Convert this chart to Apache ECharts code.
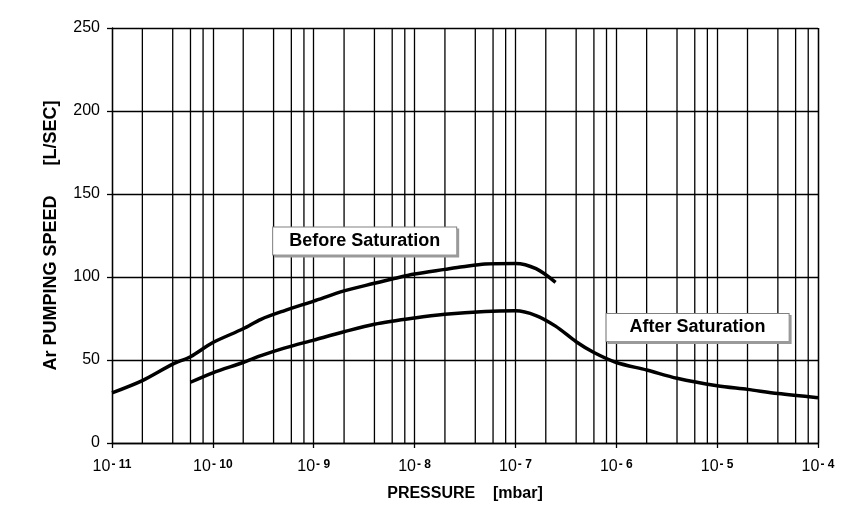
<!DOCTYPE html>
<html>
<head>
<meta charset="utf-8">
<script src="https://cdn.jsdelivr.net/npm/echarts@6/dist/echarts.min.js"></script>
<style>html,body{margin:0;padding:0;background:#fff;}#c{width:855px;height:516px;}</style>
</head>
<body>
<div id="c"></div>
<script>
// Pressure (mbar) and Ar pumping speed (L/s)
const beforePressure = [1e-11, 2e-11, 4e-11, 6e-11, 1e-10, 2e-10, 3e-10, 5e-10, 1e-9, 2e-9, 4e-9, 6e-9, 1e-8, 2e-8, 3e-8, 5e-8, 1e-7, 1.6e-7, 2.5e-7];
const beforeSpeed    = [30.2, 37.6, 47.5, 52, 60.5, 68.8, 74.5, 79.5, 85.5, 91.6, 96.2, 98.8, 101.8, 104.6, 106.2, 107.9, 108.2, 105, 96.8];

const afterPressure = [6e-11, 1e-10, 2e-10, 3e-10, 5e-10, 1e-9, 2e-9, 4e-9, 1e-8, 2e-8, 5e-8, 1e-7, 1.6e-7, 2.5e-7, 4e-7, 6e-7, 1e-6, 2e-6, 4e-6, 1e-5, 2e-5, 4e-5, 1e-4];
const afterSpeed    = [36.6, 42.3, 48.5, 52.6, 57, 62, 67, 71.5, 75.3, 77.5, 79.2, 79.6, 76.8, 70.4, 61, 54.5, 48.5, 44, 39, 34.5, 32.3, 29.8, 27.3];

const xTickExp = [-11, -10, -9, -8, -7, -6, -5, -4];
const minorMultipliers = [2, 4, 6, 8];
const yTicks = [0, 50, 100, 150, 200, 250];

const annotations = [
  { text: 'Before Saturation', x: 3.2e-9, y: 121.7, padH: 16 },
  { text: 'After Saturation',  x: 6.4e-6, y: 69.6,  padH: 23 }
];

const gridWidth = 1.3;
const yMin = yTicks[0], yMax = yTicks[yTicks.length - 1];
const minorSeries = [];
for (let i = 0; i < xTickExp.length - 1; i++) {
  for (const m of minorMultipliers) {
    const xv = m * Math.pow(10, xTickExp[i]);
    minorSeries.push({
      type: 'line', symbol: 'none', silent: true, z: 1,
      lineStyle: { color: '#000', width: gridWidth },
      data: [[xv, yMin], [xv, yMax]]
    });
  }
}

const chart = echarts.init(document.getElementById('c'), null, { renderer: 'canvas' });
chart.setOption({
  animation: false,
  backgroundColor: '#fff',
  grid: { left: 112, right: 37, top: 28, bottom: 73 },
  xAxis: {
    type: 'log', logBase: 10,
    min: Math.pow(10, xTickExp[0]), max: Math.pow(10, xTickExp[xTickExp.length - 1]),
    name: 'PRESSURE    [mbar]', nameLocation: 'middle', nameGap: 43,
    nameTextStyle: { fontFamily: 'Liberation Sans, Arial', fontWeight: 'bold', fontSize: 16, color: '#000' },
    axisLine: { show: true, lineStyle: { color: '#000', width: gridWidth } },
    axisTick: { show: true, length: 5, lineStyle: { color: '#000', width: gridWidth } },
    splitLine: { show: true, lineStyle: { color: '#000', width: gridWidth } },
    axisLabel: {
      margin: 16,
      formatter: function (v) {
        const e = Math.round(Math.log10(v));
        return '{n|10}{s|- ' + Math.abs(e) + '}';
      },
      rich: {
        n: { fontFamily: 'Liberation Sans, Arial', fontSize: 16, color: '#000' },
        s: { fontFamily: 'Liberation Sans, Arial', fontSize: 12, fontWeight: 'bold', color: '#000', verticalAlign: 'top', padding: [0, 0, 0, 1] }
      }
    }
  },
  yAxis: {
    type: 'value', min: yMin, max: yMax, interval: 50,
    name: 'Ar PUMPING SPEED      [L/SEC]', nameLocation: 'middle', nameGap: 52,
    nameTextStyle: { fontFamily: 'Liberation Sans, Arial', fontWeight: 'bold', fontSize: 18, color: '#000' },
    axisLine: { show: true, lineStyle: { color: '#000', width: gridWidth } },
    axisTick: { show: true, length: 5, lineStyle: { color: '#000', width: gridWidth } },
    splitLine: { show: true, lineStyle: { color: '#000', width: gridWidth } },
    axisLabel: { margin: 12, fontFamily: 'Liberation Sans, Arial', fontSize: 16, color: '#000' }
  },
  series: minorSeries.concat([
    {
      name: 'Before Saturation', type: 'line', smooth: 0.3, symbol: 'none',
      lineStyle: { color: '#000', width: 3.5 },
      data: beforePressure.map((p, i) => [p, beforeSpeed[i]]),
      z: 5,
      markPoint: {
        silent: true, symbol: 'rect', symbolSize: 0,
        data: annotations.map(a => ({
          coord: [a.x, a.y], value: a.text,
          label: {
            show: true, position: 'inside', formatter: a.text,
            fontFamily: 'Liberation Sans, Arial', fontWeight: 'bold', fontSize: 18, color: '#000',
            backgroundColor: '#fff', borderColor: '#808080', borderWidth: 1,
            padding: [5, a.padH, 4, a.padH],
            shadowColor: '#9a9a9a', shadowOffsetX: 2, shadowOffsetY: 2, shadowBlur: 0
          }
        }))
      }
    },
    {
      name: 'After Saturation', type: 'line', smooth: 0.3, symbol: 'none',
      lineStyle: { color: '#000', width: 3.5 },
      data: afterPressure.map((p, i) => [p, afterSpeed[i]]),
      z: 5
    }
  ])
});
</script>
</body>
</html>
